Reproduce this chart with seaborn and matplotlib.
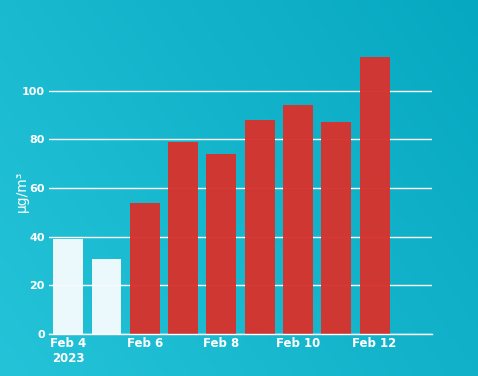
import numpy as np
import pandas as pd
import matplotlib
matplotlib.use("Agg")
import matplotlib.pyplot as plt
from matplotlib.colors import LinearSegmentedColormap
import seaborn as sns

days = ["Feb 4", "Feb 5", "Feb 6", "Feb 7", "Feb 8", "Feb 9", "Feb 10", "Feb 11", "Feb 12"]
values = [39, 31, 54, 79, 74, 88, 94, 87, 114]
bar_colors = ["#f3fbfe", "#f3fbfe", "#d6332e", "#d6332e", "#d6332e",
              "#d6332e", "#d6332e", "#d6332e", "#d6332e"]
tick_labels = ["Feb 4\n2023", "Feb 6", "Feb 8", "Feb 10", "Feb 12"]
tick_pos = [0, 2, 4, 6, 8]
y_ticks = [0, 20, 40, 60, 80, 100]

df = pd.DataFrame({"day": days, "value": values})

sns.set_theme(style="white")
plt.rcParams["font.family"] = ["DejaVu Sans"]

fig = plt.figure(figsize=(4.78, 3.76), dpi=100)

# gradient background
bg = fig.add_axes([0, 0, 1, 1], zorder=0)
nx, ny = 200, 160
xx, yy = np.meshgrid(np.linspace(0, 1, nx), np.linspace(0, 1, ny))
t = 0.65 * xx + 0.35 * yy
cmap = LinearSegmentedColormap.from_list("bg", ["#24c3d8", "#06a8c1"])
bg.imshow(t, cmap=cmap, aspect="auto", extent=[0, 1, 0, 1], origin="lower")
bg.set_axis_off()

ax = fig.add_axes([0.1025, 0.1117, 0.8013, 0.7765], zorder=1)
ax.patch.set_alpha(0)
sns.barplot(data=df, x="day", y="value", hue="day", palette=bar_colors,
            legend=False, width=0.78, ax=ax, saturation=1, zorder=3,
            edgecolor="none", linewidth=0)
for p in ax.patches:
    p.set_alpha(0.97)

ax.set_xlim(-0.5, 9.5)
ax.set_ylim(0, 120)
ax.set_yticks(y_ticks)
ax.set_yticklabels([str(v) for v in y_ticks], color="white", fontsize=8, fontweight="bold")
ax.set_xticks(tick_pos)
ax.set_xticklabels(tick_labels, color="white", fontsize=8.5, fontweight="bold")
ax.tick_params(axis="x", length=0, pad=2)
ax.tick_params(axis="y", length=0, pad=3)
ax.yaxis.grid(True, color="white", linewidth=1)
ax.set_axisbelow(True)
for s in ["top", "right", "left"]:
    ax.spines[s].set_visible(False)
ax.spines["bottom"].set_color("white")
ax.spines["bottom"].set_linewidth(1)
ax.spines["bottom"].set_zorder(4)
ax.set_xlabel("")
ax.set_ylabel("μg/m³", color="white", fontsize=10)
ax.yaxis.set_label_coords(-0.052, 0.49)

fig.savefig("out.png", dpi=100)
